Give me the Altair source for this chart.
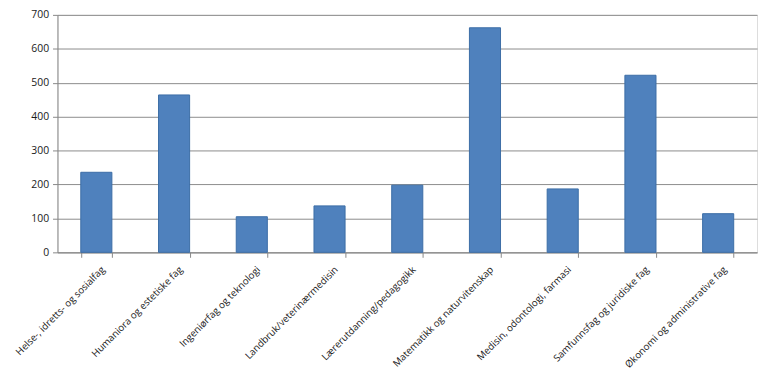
import altair as alt
import pandas as pd

categories = [
    "Helse-, idretts- og sosialfag",
    "Humaniora og estetiske fag",
    "Ingeniørfag og teknologi",
    "Landbruk/veterinærmedisin",
    "Lærerutdanning/pedagogikk",
    "Matematikk og naturvitenskap",
    "Medisin, odontologi, farmasi",
    "Samfunnsfag og juridiske fag",
    "Økonomi og administrative fag",
]
values = [236, 464, 105, 137, 198, 662, 187, 522, 114]
y_ticks = [0, 100, 200, 300, 400, 500, 600, 700]

df = pd.DataFrame({"kategori": categories, "verdi": values})

font = "Open Sans"

chart = (
    alt.Chart(df)
    .mark_bar(color="#4F81BD", stroke="#3C6DA6", strokeWidth=1)
    .encode(
        x=alt.X(
            "kategori:N",
            sort=categories,
            title=None,
            scale=alt.Scale(paddingInner=0.6, paddingOuter=0.3),
            axis=alt.Axis(
                labelAngle=-45,
                labelAlign="right",
                labelBaseline="top",
                labelFontSize=9.8,
                labelColor="#1a1a1a",
                labelFont=font,
                labelOffset=3,
                tickBand="extent",
                tickColor="#888888",
                tickSize=5,
                domainColor="#888888",
                labelPadding=7,
                grid=False,
            ),
        ),
        y=alt.Y(
            "verdi:Q",
            title=None,
            scale=alt.Scale(domain=[0, 700]),
            axis=alt.Axis(
                values=y_ticks,
                labelFontSize=10.5,
                labelColor="#1a1a1a",
                labelFont=font,
                tickColor="#888888",
                tickSize=5,
                domainColor="#888888",
                gridColor="#8C8C8C",
                gridWidth=1,
                labelPadding=4,
            ),
        ),
    )
    .properties(
        width=707,
        height=240,
        autosize=alt.AutoSizeParams(type="none"),
        padding={"left": 50, "top": 5, "right": 3, "bottom": 122},
    )
    .configure_view(stroke=None)
    .configure(background="white")
)

chart.save("out.html", embed_options={"renderer": "svg", "actions": False})
